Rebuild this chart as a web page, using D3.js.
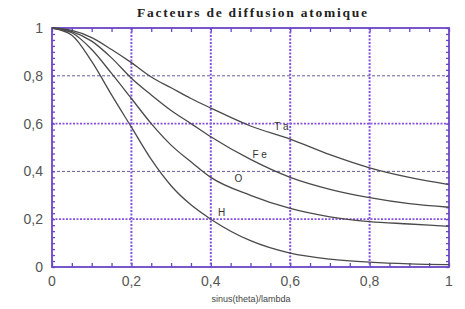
<!DOCTYPE html>
<html>
<head>
<meta charset="utf-8">
<script src="https://cdn.jsdelivr.net/npm/d3@7"></script>
<style>
  body { margin: 0; background: #fff; }
  svg { display: block; }
</style>
</head>
<body>
<div id="chart"></div>
<script>
	/* ---------------------------------
		Data
	------------------------------------*/

	// sin(theta)/lambda sample points
	var sx = [0, 0.05, 0.1, 0.15, 0.2, 0.25, 0.3, 0.35, 0.4, 0.5, 0.6, 0.7, 0.8, 0.9, 1.0];

	// scattering factors (normalised)
	var fTa = [1, 0.99, 0.96, 0.91, 0.855, 0.795, 0.75, 0.705, 0.665, 0.59, 0.535, 0.47, 0.415, 0.375, 0.345];
	var fFe = [1, 0.985, 0.945, 0.875, 0.79, 0.72, 0.655, 0.6, 0.545, 0.45, 0.375, 0.325, 0.29, 0.265, 0.25];
	var fO  = [1, 0.98, 0.91, 0.81, 0.705, 0.6, 0.51, 0.44, 0.375, 0.3, 0.245, 0.21, 0.19, 0.18, 0.17];
	var fH  = [1, 0.97, 0.86, 0.72, 0.585, 0.45, 0.34, 0.26, 0.2, 0.11, 0.058, 0.033, 0.02, 0.013, 0.01];

	var seriesNames = ["T a", "F e", "O", "H"];
	var labelAt = [0.56, 0.505, 0.46, 0.418];    // x position of curve labels
	var labelVal = [0.575, 0.455, 0.355, 0.215]; // y position of curve labels

	var xTicks = [0, 0.2, 0.4, 0.6, 0.8, 1];
	var yTicks = [0, 0.2, 0.4, 0.6, 0.8, 1];

	/* ---------------------------------
		Setup
	------------------------------------*/
	var w = 465, h = 309;
	var plotL = 52, plotR = 449, plotT = 28, plotB = 267;
	var frameCol = "#6a45c8";
	var gridCol = "#8650e0";

	var xScale = d3.scaleLinear().domain([0, 1]).range([plotL, plotR]);
	var yScale = d3.scaleLinear().domain([0, 1]).range([plotB, plotT]);

	var fmt = function(d) { return String(d).replace(".", ","); };

	var svg = d3.select("#chart").append("svg")
		.attr("width", w)
		.attr("height", h);

	// title
	svg.append("text")
		.attr("x", 252)
		.attr("y", 17)
		.attr("text-anchor", "middle")
		.attr("font-family", "Liberation Serif, serif")
		.attr("font-weight", "bold")
		.attr("font-size", 13.5)
		.attr("textLength", 230)
		.attr("fill", "#222")
		.text("Facteurs de diffusion atomique");

	// grid lines
	svg.append("g").selectAll("line")
		.data(xTicks.slice(1, -1))
		.enter().append("line")
		.attr("x1", function(d) { return xScale(d); })
		.attr("x2", function(d) { return xScale(d); })
		.attr("y1", plotT).attr("y2", plotB)
		.attr("stroke", gridCol)
		.attr("stroke-width", 2)
		.attr("stroke-dasharray", "2,1.5");

	svg.append("g").selectAll("line")
		.data(yTicks.slice(1, -1))
		.enter().append("line")
		.attr("y1", function(d) { return yScale(d); })
		.attr("y2", function(d) { return yScale(d); })
		.attr("x1", plotL).attr("x2", plotR)
		.attr("stroke", function(d, i) { return i % 2 == 0 ? gridCol : "#6a5a9a"; })
		.attr("stroke-width", function(d, i) { return i % 2 == 0 ? 1.8 : 1; })
		.attr("stroke-dasharray", function(d, i) { return i % 2 == 0 ? "2,1.5" : "3,2"; });

	// minor ticks (inside)
	var xMinor = d3.range(0, 1.0001, 0.05);
	var yMinor = d3.range(0, 1.0001, 0.025);

	svg.append("g").call(d3.axisBottom(xScale).tickValues(xMinor).tickSize(-4).tickFormat(""))
		.attr("transform", "translate(0," + plotB + ")");
	svg.append("g").call(d3.axisTop(xScale).tickValues(xMinor).tickSize(-4).tickFormat(""))
		.attr("transform", "translate(0," + plotT + ")");
	svg.append("g").call(d3.axisLeft(yScale).tickValues(yMinor).tickSize(-3).tickFormat(""))
		.attr("transform", "translate(" + plotL + ",0)");
	svg.append("g").call(d3.axisRight(yScale).tickValues(yMinor).tickSize(-3).tickFormat(""))
		.attr("transform", "translate(" + plotR + ",0)");

	svg.selectAll(".domain").remove();
	svg.selectAll(".tick line").attr("stroke", frameCol).attr("stroke-width", 1.3);

	// frame
	svg.append("rect")
		.attr("x", plotL).attr("y", plotT)
		.attr("width", plotR - plotL).attr("height", plotB - plotT)
		.attr("fill", "none")
		.attr("stroke", frameCol)
		.attr("stroke-width", 1.8);

	// tick labels
	svg.append("g").selectAll("text")
		.data(xTicks)
		.enter().append("text")
		.attr("x", function(d) { return xScale(d); })
		.attr("y", 286)
		.attr("text-anchor", "middle")
		.attr("font-family", "Liberation Sans, Arial, sans-serif")
		.attr("font-size", 14)
		.attr("fill", "#555")
		.text(fmt);

	svg.append("g").selectAll("text")
		.data(yTicks)
		.enter().append("text")
		.attr("x", 43)
		.attr("y", function(d) { return yScale(d) + 5; })
		.attr("text-anchor", "end")
		.attr("font-family", "Liberation Sans, Arial, sans-serif")
		.attr("font-size", 14)
		.attr("fill", "#555")
		.text(fmt);

	// axis title
	svg.append("text")
		.attr("x", 251)
		.attr("y", 302)
		.attr("text-anchor", "middle")
		.attr("font-family", "Liberation Sans, Arial, sans-serif")
		.attr("font-size", 9)
		.attr("fill", "#444")
		.text("sinus(theta)/lambda");

	/* ---------------------------------
		Curves
	------------------------------------*/
	var line = d3.line()
		.x(function(d) { return xScale(d[0]); })
		.y(function(d) { return yScale(d[1]); })
		.curve(d3.curveMonotoneX);

	var allSeries = [fTa, fFe, fO, fH];

	svg.append("g").selectAll("path")
		.data(allSeries)
		.enter().append("path")
		.attr("d", function(s) { return line(d3.zip(sx, s)); })
		.attr("fill", "none")
		.attr("stroke", "#4a4a4a")
		.attr("stroke-width", 1.3);

	svg.append("g").selectAll("text")
		.data(seriesNames)
		.enter().append("text")
		.attr("x", function(d, i) { return xScale(labelAt[i]); })
		.attr("y", function(d, i) { return yScale(labelVal[i]); })
		.attr("font-family", "Liberation Sans, Arial, sans-serif")
		.attr("font-size", 10)
		.attr("fill", "#333")
		.text(function(d) { return d; });
</script>
</body>
</html>
